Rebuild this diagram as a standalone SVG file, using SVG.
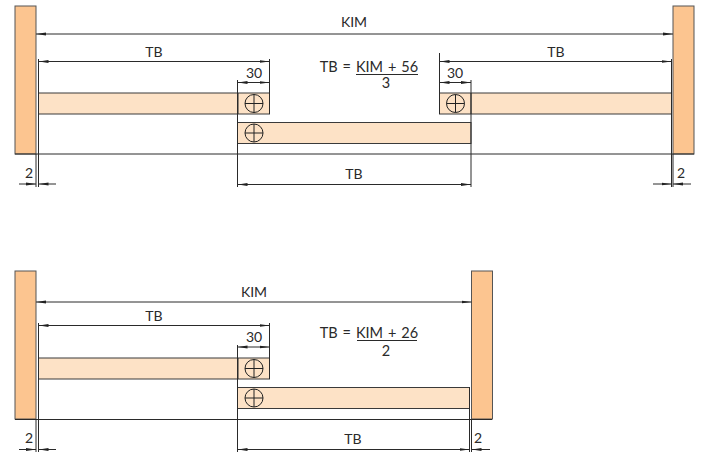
<svg xmlns="http://www.w3.org/2000/svg" width="704" height="454" viewBox="0 0 704 454">
<style>
.wall{fill:#fcc590;stroke:#555;stroke-width:1}
.board{fill:#fde2c6;stroke:#3a3a3a;stroke-width:1}
.ln{fill:none;stroke:#2a2a2a;stroke-width:1}
.dim{fill:none;stroke:#2a2a2a;stroke-width:1}
.scr{fill:none;stroke:#222;stroke-width:1}
text{font-family:"Lato","Liberation Sans",sans-serif;font-size:14px;fill:#2a2a2a;text-anchor:middle}
.f{font-size:14.5px;word-spacing:1.2px}
</style>
<defs>
<marker id="a" viewBox="0 0 10 4" refX="10" refY="2" markerWidth="10" markerHeight="4" markerUnits="userSpaceOnUse" orient="auto-start-reverse"><path d="M0 .6L10 2L0 3.400z" fill="#222"/></marker>
<g id="sc"><circle r="9" class="scr"/><path d="M-9 0H9M0-9V9" class="scr"/></g>
</defs>
<g id="top-assembly">
<rect id="wall-left" class="wall" x="15" y="6" width="21" height="148"/>
<rect id="wall-right" class="wall" x="673" y="6" width="21" height="148"/>
<rect id="board-left" class="board" x="38.500" y="93" width="231" height="21"/>
<rect id="board-mid" class="board" x="237.500" y="122.500" width="233.500" height="21"/>
<rect id="board-right" class="board" x="439.500" y="93" width="232" height="21"/>
<path class="ln" d="M238 93V114M471 93V114"/>
<use href="#sc" x="254" y="103.500"/><use href="#sc" x="254" y="133"/><use href="#sc" x="455.500" y="103.500"/>
<path class="ln" d="M15 154H694"/>
</g>
<g id="top-connectors">
<path class="ln" d="M38.500 59V187M36 154V187M269.500 59V114M237.500 80V187M439.500 53V114M471 80V187M671.500 59V187M673 154V187"/>
<path class="dim" marker-start="url(#a)" marker-end="url(#a)" d="M36 34H673"/>
<path class="dim" marker-start="url(#a)" marker-end="url(#a)" d="M38.500 61.500H269.500"/>
<path class="dim" marker-start="url(#a)" marker-end="url(#a)" d="M439.500 61.500H671.500"/>
<path class="dim" marker-start="url(#a)" marker-end="url(#a)" d="M237.500 82.500H269.500"/>
<path class="dim" marker-start="url(#a)" marker-end="url(#a)" d="M439.500 82.500H471"/>
<path class="dim" marker-start="url(#a)" marker-end="url(#a)" d="M237.500 184.500H471"/>
<path class="dim" marker-end="url(#a)" d="M19 184H36"/><path class="dim" marker-end="url(#a)" d="M56 184H38.500"/>
<path class="dim" marker-end="url(#a)" d="M653 184H671.500"/><path class="dim" marker-end="url(#a)" d="M691 184H673"/>
</g>
<g id="top-labels">
<text x="354" y="27">KIM</text><text x="154" y="57">TB</text><text x="556" y="57">TB</text>
<text x="254" y="78">30</text><text x="455" y="78">30</text><text x="354" y="179">TB</text>
<text x="29" y="178">2</text><text x="681" y="178">2</text>
<text class="f" x="351" y="71.500" style="text-anchor:end">TB =</text><text class="f" x="387" y="71.500">KIM + 56</text>
<path class="ln" d="M356 74.500H418"/><text class="f" x="386" y="88">3</text>
</g>
<g id="bottom-assembly">
<rect id="wall-left-2" class="wall" x="15" y="271" width="21" height="148"/>
<rect id="wall-right-2" class="wall" x="471.500" y="271" width="21" height="148"/>
<rect id="board-left-2" class="board" x="38.500" y="358" width="231" height="21"/>
<rect id="board-mid-2" class="board" x="237.500" y="387.500" width="232" height="21"/>
<path class="ln" d="M238 358V379"/>
<use href="#sc" x="254" y="368.500"/><use href="#sc" x="254" y="398"/>
<path class="ln" d="M15 419.500H492"/>
</g>
<g id="bottom-connectors">
<path class="ln" d="M38.500 323V452M36 419V452M269.500 323V379M237.500 345V452M469.500 387V452M471.500 419V452"/>
<path class="dim" marker-start="url(#a)" marker-end="url(#a)" d="M36 302H471.500"/>
<path class="dim" marker-start="url(#a)" marker-end="url(#a)" d="M38.500 325.500H269.500"/>
<path class="dim" marker-start="url(#a)" marker-end="url(#a)" d="M237.500 347H269.500"/>
<path class="dim" marker-start="url(#a)" marker-end="url(#a)" d="M237.500 449.500H469.500"/>
<path class="dim" marker-end="url(#a)" d="M19 449.500H36"/><path class="dim" marker-end="url(#a)" d="M56 449.500H38.500"/>
<path class="dim" marker-end="url(#a)" d="M490 449.500H471.500"/>
</g>
<g id="bottom-labels">
<text x="254" y="296.500">KIM</text><text x="154" y="321">TB</text><text x="254" y="342">30</text><text x="353" y="444">TB</text>
<text x="29" y="443">2</text><text x="478" y="443">2</text>
<text class="f" x="351" y="337.500" style="text-anchor:end">TB =</text><text class="f" x="387" y="337.500">KIM + 26</text>
<path class="ln" d="M357 340.500H417"/><text class="f" x="386" y="356">2</text>
</g>
</svg>
